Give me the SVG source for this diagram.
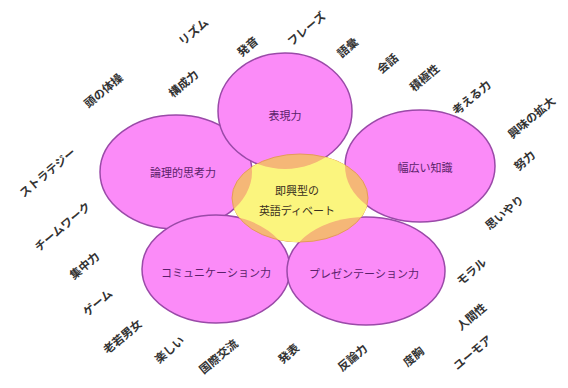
<svg xmlns="http://www.w3.org/2000/svg" width="568" height="388" viewBox="0 0 568 388">
<style>
.petal{fill:#fb8bf8;stroke:#9a4aa8;stroke-width:1.5}
.pt{font-family:"Noto Sans CJK JP","Noto Sans",sans-serif;font-size:11px;fill:#5a1f6a;text-anchor:middle;dominant-baseline:central}
.ct{font-family:"Noto Sans CJK JP","Noto Sans",sans-serif;font-size:11px;fill:#3a3020;text-anchor:middle;dominant-baseline:central}
.w{font-family:"Noto Sans CJK JP","Noto Sans",sans-serif;font-size:11.5px;font-weight:bold;fill:#333;text-anchor:middle;dominant-baseline:central}
</style>
<defs>
<mask id="free">
<rect width="568" height="388" fill="#fff"/>
<ellipse cx="176" cy="172" rx="76" ry="57" fill="#000"/>
<ellipse cx="420" cy="166" rx="75" ry="56" fill="#000"/>
<ellipse cx="216" cy="269" rx="74" ry="54" fill="#000"/>
<ellipse cx="366" cy="271" rx="79" ry="54" fill="#000"/>
<ellipse cx="285" cy="111" rx="67" ry="58" fill="#000"/>
</mask>
</defs>
<rect width="568" height="388" fill="#fff"/>
<g id="petal-left"><ellipse class="petal" cx="176" cy="172" rx="76" ry="57"/><text class="pt" x="183" y="172">論理的思考力</text></g>
<g id="petal-right"><ellipse class="petal" cx="420" cy="166" rx="75" ry="56"/><text class="pt" x="425" y="167">幅広い知識</text></g>
<g id="petal-bottom-left"><ellipse class="petal" cx="216" cy="269" rx="74" ry="54"/><text class="pt" x="216" y="272">コミュニケーション力</text></g>
<g id="petal-bottom-right"><ellipse class="petal" cx="366" cy="271" rx="79" ry="54"/><text class="pt" x="364" y="273">プレゼンテーション力</text></g>
<g id="petal-top"><ellipse class="petal" cx="285" cy="111" rx="67" ry="58"/><text class="pt" x="285" y="115">表現力</text></g>
<g id="core">
<ellipse cx="300" cy="198" rx="68" ry="44" fill="#f5b777" stroke="#e59a5a" stroke-width="1"/>
<ellipse cx="300" cy="198" rx="68" ry="44" fill="#fbf57e" mask="url(#free)"/>
<text class="ct" x="297" y="190">即興型の</text><text class="ct" x="297" y="210">英語ディベート</text></g>
<g id="words">
<text class="w" transform="translate(193,31) rotate(-40)">リズム</text>
<text class="w" transform="translate(247,46) rotate(-40)">発音</text>
<text class="w" transform="translate(306,28) rotate(-40)">フレーズ</text>
<text class="w" transform="translate(347,47) rotate(-40)">語彙</text>
<text class="w" transform="translate(387,63) rotate(-40)">会話</text>
<text class="w" transform="translate(424,77) rotate(-40)">積極性</text>
<text class="w" transform="translate(471,97) rotate(-40)">考える力</text>
<text class="w" transform="translate(531,117) rotate(-40)">興味の拡大</text>
<text class="w" transform="translate(524,160) rotate(-40)">努力</text>
<text class="w" transform="translate(504,212) rotate(-40)">思いやり</text>
<text class="w" transform="translate(471,271) rotate(-40)">モラル</text>
<text class="w" transform="translate(471,316) rotate(-40)">人間性</text>
<text class="w" transform="translate(472,352) rotate(-40)">ユーモア</text>
<text class="w" transform="translate(413,356) rotate(-40)">度胸</text>
<text class="w" transform="translate(352,357) rotate(-40)">反論力</text>
<text class="w" transform="translate(288,353) rotate(-40)">発表</text>
<text class="w" transform="translate(218,356) rotate(-40)">国際交流</text>
<text class="w" transform="translate(169,349) rotate(-40)">楽しい</text>
<text class="w" transform="translate(122,336) rotate(-40)">老若男女</text>
<text class="w" transform="translate(97,302) rotate(-40)">ゲーム</text>
<text class="w" transform="translate(84,265) rotate(-40)">集中力</text>
<text class="w" transform="translate(62,226) rotate(-40)">チームワーク</text>
<text class="w" transform="translate(47,172) rotate(-40)">ストラテジー</text>
<text class="w" transform="translate(103,90) rotate(-40)">頭の体操</text>
<text class="w" transform="translate(183,83) rotate(-40)">構成力</text>
</g>
</svg>
